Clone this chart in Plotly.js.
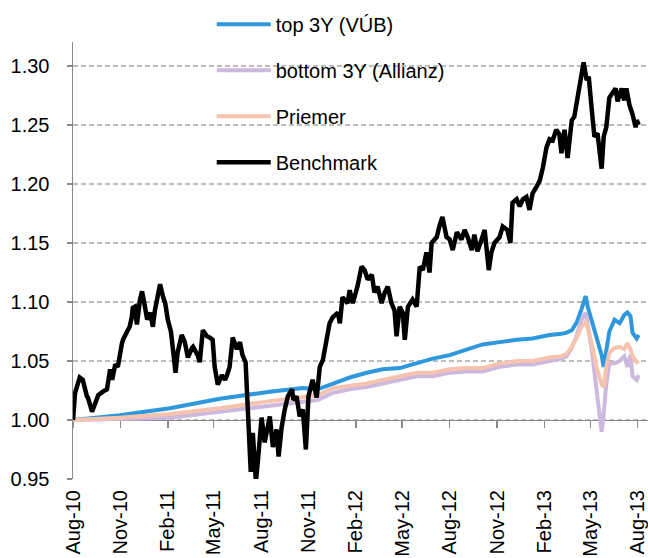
<!DOCTYPE html>
<html>
<head>
<meta charset="utf-8">
<script src="https://cdn.plot.ly/plotly-3.0.1.min.js"></script>
<style>html,body{margin:0;padding:0;background:#fff;}#chart{width:648px;height:558px;}</style>
</head>
<body>
<div id="chart"></div>
<script>
const seriesNames = ["top 3Y (VÚB)", "bottom 3Y (Allianz)", "Priemer", "Benchmark"];

const fundDates = ["2010-08-01","2010-10-31","2011-02-05","2011-05-13","2011-08-18","2011-09-26","2011-10-21","2011-11-19","2011-12-18","2012-01-20","2012-02-22","2012-03-24","2012-04-26","2012-05-29","2012-06-29","2012-08-01","2012-09-03","2012-10-04","2012-11-06","2012-12-09","2013-01-09","2013-02-11","2013-03-06","2013-03-16","2013-03-26","2013-04-05","2013-04-14","2013-04-22","2013-04-26","2013-05-03","2013-05-13","2013-05-19","2013-05-23","2013-05-27","2013-06-01","2013-06-07","2013-06-17","2013-06-27","2013-07-06","2013-07-12","2013-07-18","2013-07-22","2013-07-30","2013-08-03"];

const topVUB = [1.000,1.004,1.010,1.018,1.024,1.026,1.027,1.026,1.031,1.036,1.040,1.043,1.044,1.048,1.052,1.055,1.060,1.064,1.066,1.068,1.069,1.072,1.073,1.074,1.076,1.083,1.094,1.105,1.096,1.085,1.068,1.060,1.055,1.045,1.057,1.075,1.085,1.082,1.089,1.091,1.088,1.074,1.069,1.072];

const bottomAllianz = [1.000,1.001,1.002,1.007,1.012,1.014,1.015,1.017,1.023,1.026,1.028,1.031,1.034,1.037,1.037,1.040,1.041,1.041,1.045,1.047,1.047,1.050,1.052,1.054,1.061,1.072,1.085,1.091,1.082,1.062,1.026,1.000,0.990,1.005,1.030,1.048,1.048,1.050,1.054,1.045,1.055,1.037,1.034,1.038];

const priemer = [1.000,1.002,1.005,1.010,1.016,1.018,1.019,1.021,1.027,1.029,1.031,1.034,1.037,1.040,1.040,1.043,1.044,1.044,1.048,1.050,1.050,1.053,1.054,1.056,1.062,1.070,1.079,1.083,1.078,1.066,1.045,1.037,1.030,1.028,1.045,1.057,1.061,1.062,1.060,1.065,1.060,1.054,1.049,1.050];

const benchDates = ["2010-08-01","2010-08-05","2010-08-14","2010-08-20","2010-08-28","2010-08-30","2010-09-07","2010-09-13","2010-09-19","2010-09-28",
"2010-10-06","2010-10-12","2010-10-16","2010-10-22","2010-10-27","2010-11-04","2010-11-06","2010-11-14","2010-11-19","2010-11-23",
"2010-11-25","2010-11-29","2010-12-03","2010-12-09","2010-12-13","2010-12-17","2010-12-23","2010-12-29","2011-01-03","2011-01-07",
"2011-01-11","2011-01-17","2011-01-23","2011-01-27","2011-02-01","2011-02-07","2011-02-11","2011-02-16","2011-02-20","2011-02-28",
"2011-03-06","2011-03-12","2011-03-20","2011-03-22","2011-03-31","2011-04-04","2011-04-10","2011-04-18","2011-04-23","2011-04-29",
"2011-05-03","2011-05-09","2011-05-17","2011-05-23","2011-05-27","2011-06-01","2011-06-07","2011-06-15","2011-06-21","2011-06-26",
"2011-07-02","2011-07-06","2011-07-10","2011-07-12","2011-07-16","2011-07-22","2011-07-26","2011-08-02","2011-08-08","2011-08-12",
"2011-08-18","2011-08-24","2011-08-31","2011-09-04","2011-09-10","2011-09-16","2011-09-22","2011-09-30","2011-10-03","2011-10-09",
"2011-10-15","2011-10-21","2011-10-27","2011-11-01","2011-11-09","2011-11-17","2011-11-23","2011-11-29","2011-12-06","2011-12-12",
"2011-12-18","2011-12-28","2012-01-01","2012-01-06","2012-01-16","2012-01-20","2012-01-26","2012-02-04","2012-02-12","2012-02-18",
"2012-02-24","2012-03-03","2012-03-08","2012-03-14","2012-03-22","2012-03-28","2012-04-03","2012-04-10","2012-04-16","2012-04-20",
"2012-04-26","2012-05-02","2012-05-06","2012-05-12","2012-05-21","2012-05-29","2012-06-04","2012-06-10","2012-06-17","2012-06-23",
"2012-06-27","2012-07-07","2012-07-12","2012-07-18","2012-07-26","2012-08-01","2012-08-07","2012-08-15","2012-08-24","2012-08-30",
"2012-09-05","2012-09-13","2012-09-18","2012-09-24","2012-10-02","2012-10-08","2012-10-16","2012-10-21","2012-10-27","2012-11-06",
"2012-11-12","2012-11-21","2012-11-27","2012-12-01","2012-12-09","2012-12-15","2012-12-21","2012-12-28","2013-01-03","2013-01-09",
"2013-01-17","2013-01-23","2013-01-29","2013-02-05","2013-02-11","2013-02-17","2013-02-24","2013-03-02","2013-03-06","2013-03-12",
"2013-03-18","2013-03-26","2013-03-31","2013-04-06","2013-04-10","2013-04-14","2013-04-18","2013-04-24","2013-04-28","2013-05-03",
"2013-05-09","2013-05-15","2013-05-19","2013-05-23","2013-05-27","2013-06-01","2013-06-07","2013-06-13","2013-06-19","2013-06-23",
"2013-07-01","2013-07-03","2013-07-06","2013-07-10","2013-07-16","2013-07-22","2013-07-28","2013-07-30","2013-08-03"];

const benchmark = [1.000,1.023,1.036,1.034,1.020,1.019,1.007,1.015,1.021,1.024,
1.026,1.043,1.034,1.047,1.045,1.065,1.068,1.075,1.079,1.087,
1.095,1.096,1.081,1.102,1.109,1.100,1.085,1.091,1.079,1.093,
1.104,1.115,1.104,1.099,1.085,1.075,1.060,1.040,1.057,1.072,
1.066,1.053,1.061,1.062,1.055,1.049,1.076,1.071,1.070,1.068,
1.045,1.030,1.038,1.034,1.038,1.045,1.070,1.060,1.066,1.055,
1.049,1.017,0.983,0.956,0.989,0.948,0.966,1.002,0.981,0.989,
1.003,0.977,0.992,0.969,0.994,1.009,1.020,1.026,1.017,1.020,
1.003,1.009,0.975,1.020,1.034,1.019,1.045,1.051,1.068,1.082,
1.087,1.091,1.082,1.104,1.099,1.110,1.099,1.113,1.130,1.127,
1.119,1.123,1.108,1.113,1.099,1.108,1.113,1.099,1.093,1.071,
1.096,1.091,1.068,1.096,1.102,1.096,1.130,1.127,1.142,1.125,
1.150,1.155,1.164,1.172,1.155,1.153,1.144,1.159,1.153,1.161,
1.155,1.144,1.157,1.143,1.153,1.161,1.127,1.142,1.150,1.155,
1.164,1.161,1.150,1.184,1.187,1.181,1.187,1.189,1.178,1.192,
1.198,1.203,1.214,1.231,1.238,1.237,1.246,1.242,1.226,1.246,
1.222,1.254,1.257,1.273,1.280,1.295,1.303,1.288,1.291,1.267,
1.240,1.243,1.231,1.213,1.240,1.248,1.273,1.277,1.281,1.270,
1.281,1.275,1.271,1.281,1.267,1.259,1.248,1.254,1.250];

const yTicks = [0.95, 1.00, 1.05, 1.10, 1.15, 1.20, 1.25, 1.30];
const xRange = ["2010-08-01", "2013-08-21"];
const yRange = [0.95, 1.3203];
const colors = ["#2F98DC", "#CDB9DE", "#F6C3AE", "#000000"];

const FONT = "Liberation Sans, Arial, sans-serif";

function lineTrace(x, y, i, w) {
  return {
    x: x, y: y, type: "scatter", mode: "lines", name: seriesNames[i],
    legendgroup: "g" + i,
    line: {color: colors[i], width: w},
    hoverinfo: "skip"
  };
}

const traces = [
  lineTrace(fundDates, topVUB, 0, 4),
  lineTrace(fundDates, bottomAllianz, 1, 4),
  lineTrace(fundDates, priemer, 2, 4),
  lineTrace(benchDates, benchmark, 3, 4.5),
  {x: [fundDates[0]], y: [null], xaxis: "x2", type: "scatter", mode: "lines", showlegend: false, hoverinfo: "skip"}
];

const axisPos = (1.0 - yRange[0]) / (yRange[1] - yRange[0]);

const layout = {
  width: 648, height: 558,
  margin: {l: 73, r: 0, t: 42, b: 79},
  paper_bgcolor: "#fff", plot_bgcolor: "#fff",
  font: {family: FONT, size: 20, color: "#000"},
  showlegend: true,
  legend: {
    x: 0.2413, xanchor: "left", y: 1.085, yanchor: "top",
    bgcolor: "rgba(0,0,0,0)", borderwidth: 0,
    itemwidth: 54,
    traceorder: "grouped", tracegroupgap: 17,
    font: {family: FONT, size: 20, color: "#000"}
  },
  xaxis: {
    type: "date", range: xRange,
    tick0: "2010-08-01", dtick: "M3", tickformat: "%b-%y",
    tickangle: -90, ticks: "", showline: false, showgrid: false, zeroline: false,
    tickfont: {family: FONT, size: 20, color: "#000"},
    ticklabelstandoff: 6, ticklabeloverflow: "allow"
  },
  xaxis2: {
    type: "date", overlaying: "x", matches: "x", anchor: "free", position: axisPos,
    tick0: "2010-08-01", dtick: "M3",
    showline: true, linecolor: "#8a8a8a", linewidth: 1.5,
    ticks: "outside", ticklen: 7, tickwidth: 1.5, tickcolor: "#8a8a8a",
    showticklabels: false, showgrid: false, zeroline: false,
    layer: "below traces"
  },
  yaxis: {
    range: yRange, tickvals: yTicks, tickformat: ".2f",
    showline: true, linecolor: "#8a8a8a", linewidth: 1.5,
    ticks: "outside", ticklen: 5, tickwidth: 1.5, tickcolor: "#8a8a8a",
    showgrid: true, gridcolor: "#bdbdbd", gridwidth: 1.3, griddash: "5px,3px",
    zeroline: false,
    tickfont: {family: FONT, size: 20, color: "#000"},
    ticklabelstandoff: 13
  }
};

Plotly.newPlot("chart", traces, layout, {staticPlot: true, displayModeBar: false});
</script>
</body>
</html>
